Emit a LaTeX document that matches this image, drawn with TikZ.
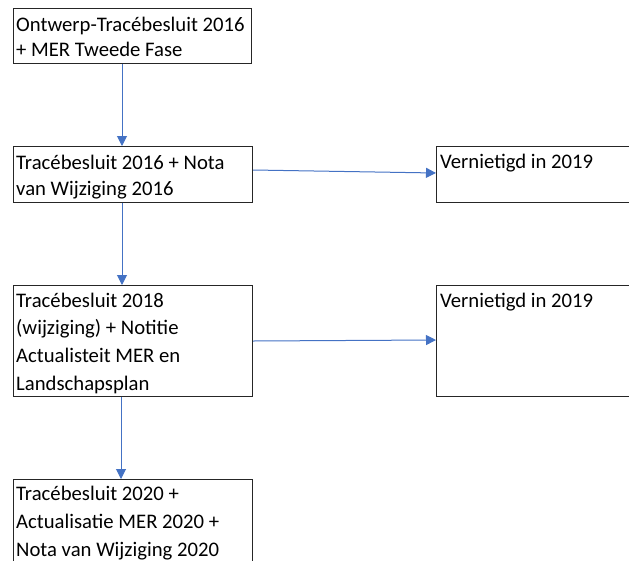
\documentclass[tikz,border=0pt]{standalone}
\usepackage{fontspec}
\setmainfont{Carlito}
\usetikzlibrary{arrows.meta,calc}
\definecolor{arrowblue}{HTML}{4472C4}
\definecolor{boxline}{HTML}{262626}
\tikzset{
  box/.style={draw=boxline, line width=1.1pt, rectangle, inner sep=0pt, anchor=north west},
  boxtext/.style={anchor=north west, inner sep=0pt, align=left, font=\fontsize{20.7}{#1}\selectfont},
  boxtext/.default=28,
  conn/.style={draw=arrowblue, line width=1pt, -{Triangle[length=10pt,width=10pt]}}
}
\begin{document}
\begin{tikzpicture}[x=1pt,y=-1pt]
\useasboundingbox (0,0) rectangle (629,560);
\node[box, minimum width=238pt, minimum height=55.5pt] (b1) at (13,7.5) {};
\node[box, minimum width=239pt, minimum height=55.5pt] (b2) at (13,146) {};
\node[box, minimum width=239pt, minimum height=110.5pt] (b3) at (13,285) {};
\node[box, minimum width=239pt, minimum height=100pt] (b4) at (13,479) {};
\node[box, minimum width=200pt, minimum height=55.5pt] (b5) at (436,146) {};
\node[box, minimum width=200pt, minimum height=111pt] (b6) at (436,285) {};
\node[boxtext=25.5] (t1) at (16,13.2) {\strut Ontwerp-Tracébesluit 2016\\+ MER Tweede Fase};
\node[boxtext=26] (t2) at (16,150.8) {\strut Tracébesluit 2016 + Nota\\van Wijziging 2016};
\node[boxtext=27.7] (t3) at (16,287.6) {\strut Tracébesluit 2018\\(wijziging) + Notitie\\Actualisteit MER en\\Landschapsplan};
\node[boxtext=28] (t4) at (16,480.4) {\strut Tracébesluit 2020 +\\Actualisatie MER 2020 +\\Nota van Wijziging 2020};
\node[boxtext=28] (t5) at (440,148.4) {\strut Vernietigd in 2019};
\node[boxtext=28] (t6) at (440,287.4) {\strut Vernietigd in 2019};
\draw[conn] ($(b1.south west)+(109,0)$) coordinate (c1) -- (c1 |- b2.north);
\draw[conn] ($(b2.south west)+(109,0)$) coordinate (c2) -- (c2 |- b3.north);
\draw[conn] ($(b3.south west)+(108,0)$) coordinate (c3) -- (c3 |- b4.north);
\draw[conn] ($(b2.north east)+(0,24)$) -- ($(b5.north west)+(0,27)$);
\draw[conn] ($(b3.north east)+(0,56)$) -- ($(b6.north west)+(0,55)$);
\end{tikzpicture}
\end{document}
